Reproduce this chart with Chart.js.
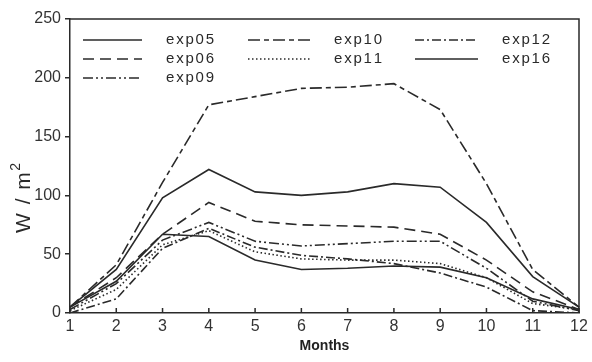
<!DOCTYPE html>
<html>
<head>
<meta charset="utf-8">
<script src="https://cdn.jsdelivr.net/npm/chart.js@4.4.1/dist/chart.umd.min.js"></script>
<style>
  body { margin: 0; background: #fff; }
</style>
</head>
<body>
<canvas id="chart" width="592" height="362"></canvas>
<script>
//! Data
const months = ['1', '2', '3', '4', '5', '6', '7', '8', '9', '10', '11', '12'];
const exp05 = [5, 37, 98, 122, 103, 100, 103, 110, 107, 77, 31, 5];
const exp06 = [5, 30, 67, 94, 78, 75, 74, 73, 67, 45, 18, 3];
const exp09 = [3, 25, 62, 77, 61, 57, 59, 61, 61, 38, 10, 2];
const exp10 = [5, 41, 111, 177, 184, 191, 192, 195, 173, 110, 37, 5];
const exp11 = [2, 20, 58, 70, 52, 46, 45, 45, 42, 30, 8, 3];
const exp12 = [0, 12, 55, 72, 56, 49, 46, 42, 34, 22, 2, 0];
const exp16 = [5, 27, 67, 65, 45, 37, 38, 40, 39, 30, 12, 3];
const y_ticks = [0, 50, 100, 150, 200, 250];

const ink = '#2a2a2a';
const font_family = '"Liberation Sans", Arial, sans-serif';

function makeSet(label, data, dash) {
    return {
        label: label,
        data: data,
        borderColor: ink,
        borderWidth: 1.6,
        borderDash: dash,
        pointRadius: 0,
        tension: 0,
        fill: false
    };
}

const datasets = [
    makeSet('exp05', exp05, []),
    makeSet('exp06', exp06, [11, 6]),
    makeSet('exp09', exp09, [10, 3, 2, 3, 2, 3]),
    makeSet('exp10', exp10, [12, 4, 5, 4]),
    makeSet('exp11', exp11, [1.5, 2.5]),
    makeSet('exp12', exp12, [9, 3, 2, 3]),
    makeSet('exp16', exp16, [])
];

// legend slots: column-major like the original
const legend_slots = [
    { x1: 83, x2: 142, tx: 166, y: 40 },
    { x1: 83, x2: 142, tx: 166, y: 59 },
    { x1: 83, x2: 142, tx: 166, y: 78 },
    { x1: 248, x2: 310, tx: 334, y: 40 },
    { x1: 248, x2: 310, tx: 334, y: 59 },
    { x1: 415, x2: 478, tx: 502, y: 40 },
    { x1: 415, x2: 478, tx: 502, y: 59 }
];

function spacedText(ctx, text, x, y, spacing) {
    for (const ch of text) {
        ctx.fillText(ch, x, y);
        x += ctx.measureText(ch).width + spacing;
    }
    return x;
}

//! Frame, inner ticks, legend and axis title
const decorations = {
    id: 'decorations',
    afterDraw(chart) {
        const ctx = chart.ctx;
        const area = chart.chartArea;
        const xs = chart.scales.x;
        ctx.save();
        ctx.strokeStyle = ink;
        ctx.lineWidth = 1.5;
        ctx.setLineDash([]);
        ctx.beginPath();
        ctx.moveTo(area.left, area.top);
        ctx.lineTo(area.right, area.top);
        ctx.lineTo(area.right, area.bottom);
        ctx.stroke();

        // x ticks point inwards
        ctx.beginPath();
        months.forEach((m, i) => {
            const px = xs.getPixelForValue(i);
            ctx.moveTo(px, area.bottom);
            ctx.lineTo(px, area.bottom - 5);
        });
        ctx.stroke();

        // legend
        ctx.font = '15px ' + font_family;
        ctx.fillStyle = ink;
        ctx.textBaseline = 'middle';
        chart.data.datasets.forEach((ds, i) => {
            const s = legend_slots[i];
            ctx.beginPath();
            ctx.setLineDash(ds.borderDash);
            ctx.moveTo(s.x1, s.y);
            ctx.lineTo(s.x2, s.y);
            ctx.stroke();
            spacedText(ctx, ds.label, s.tx, s.y, 1.8);
        });

        // y title with superscript
        ctx.setLineDash([]);
        ctx.translate(22, 199);
        ctx.rotate(-Math.PI / 2);
        ctx.textBaseline = 'alphabetic';
        ctx.font = '21px ' + font_family;
        const start = -34;
        const end = spacedText(ctx, 'W / m', start, 8, 1.5);
        ctx.font = '14px ' + font_family;
        ctx.fillText('2', end, -2);
        ctx.restore();
    }
};

const ctx = document.getElementById('chart').getContext('2d');
const my_chart = new Chart(ctx, {
    type: 'line',
    data: { labels: months, datasets: datasets },
    options: {
        responsive: false,
        animation: false,
        layout: { padding: { top: 19, right: 13, left: 0, bottom: 0 } },
        plugins: { legend: { display: false }, tooltip: { enabled: false } },
        scales: {
            x: {
                offset: false,
                grid: { display: false, drawTicks: false },
                border: { display: true, color: ink, width: 1.5 },
                ticks: {
                    color: '#333',
                    font: { family: font_family, size: 16 },
                    padding: 4,
                    maxRotation: 0,
                    autoSkip: false
                },
                title: {
                    display: true,
                    text: 'Months',
                    color: '#222',
                    font: { family: font_family, size: 14, weight: 'bold' },
                    padding: { top: 0, bottom: 7 }
                },
                afterFit(scale) { scale.height = 49; }
            },
            y: {
                min: 0,
                max: 250,
                afterBuildTicks(scale) { scale.ticks = y_ticks.map(v => ({ value: v })); },
                grid: { drawOnChartArea: false, drawTicks: true, tickLength: 5, color: ink, lineWidth: 1.5 },
                border: { display: true, color: ink, width: 1.5 },
                ticks: {
                    color: '#333',
                    font: { family: font_family, size: 16 },
                    padding: 4
                },
                afterFit(scale) { scale.width = 70; }
            }
        }
    },
    plugins: [decorations]
});
</script>
</body>
</html>
